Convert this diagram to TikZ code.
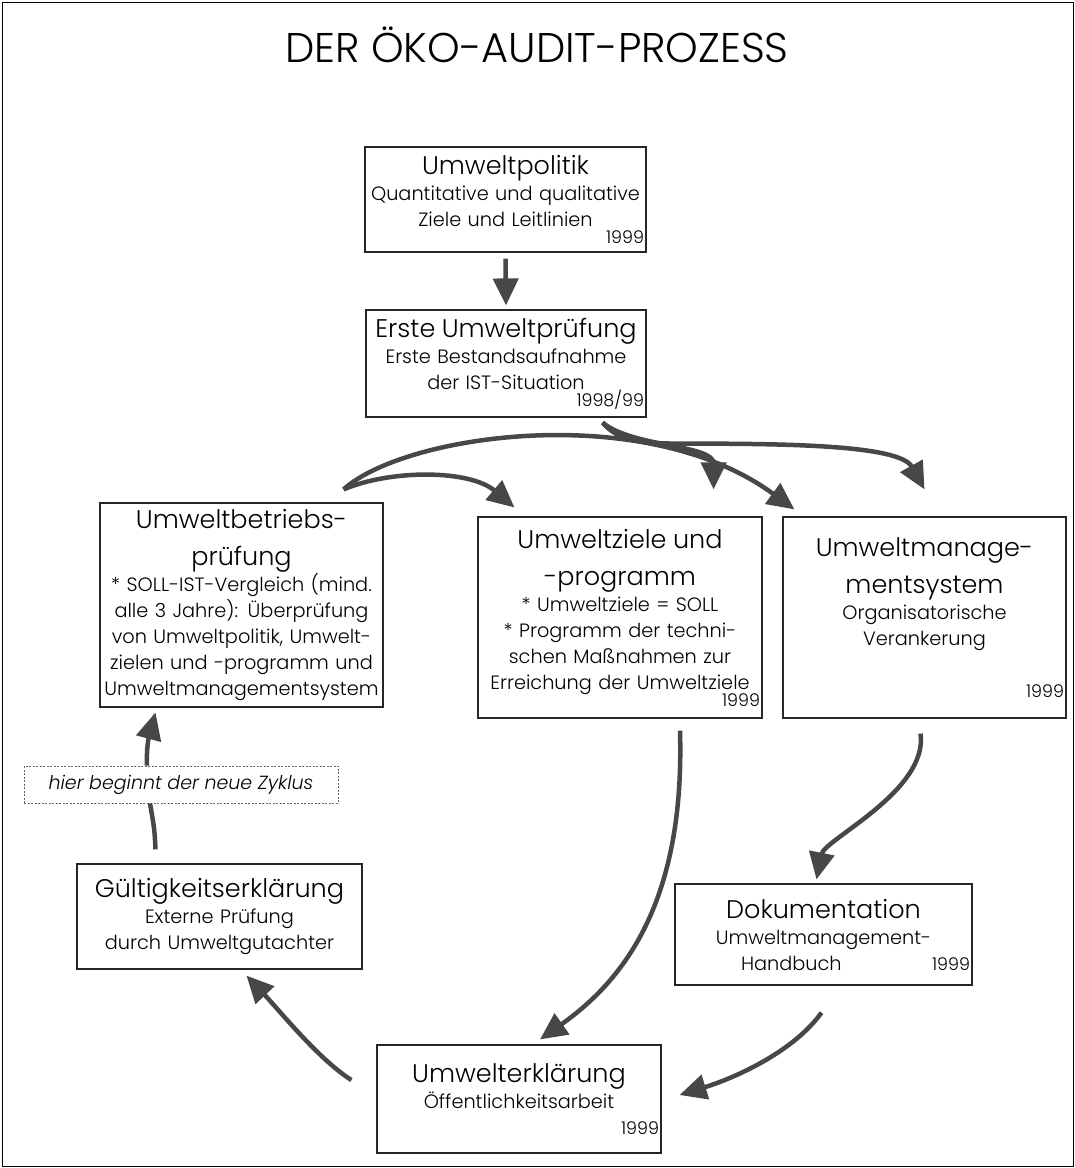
\documentclass[tikz,border=0pt]{standalone}
\usepackage{fontspec}
\setmainfont{Poppins}[UprightFont=* Light, ItalicFont=* Light Italic]
\usetikzlibrary{arrows.meta}

\newcommand{\headfont}{\fontsize{25.5}{37}\selectfont}
\newcommand{\bodyfont}{\fontsize{19.3}{26}\selectfont}
\newcommand{\yearfont}{\fontsize{17.5}{20}\selectfont}

\begin{document}
\begin{tikzpicture}
  [x=1pt, y=-1pt,
   box/.style={draw=black!85, line width=1.2pt, fill=white, align=center, inner sep=2pt, font=\bodyfont},
   zyklusbox/.style={draw=black!60, line width=0.8pt, dash pattern=on 2pt off 1.5pt, fill=white,
     minimum width=314pt, minimum height=37pt, font=\fontsize{19}{22}\selectfont\itshape},
   conn/.style={draw=black!72, line width=4.5pt, -{Triangle[length=27pt,width=25pt]}}]
  \useasboundingbox (0,0) rectangle (1075,1168);
  \draw [line width=1pt] (2,2) rectangle (1073,1166);

  \node (titel) at (537,45) {\fontsize{41.5}{46}\selectfont DER ÖKO-AUDIT-PROZESS};

  \node (pol) [box, minimum width=281pt, minimum height=105pt, text width=277pt] at (505.5,199.5)
    {\headfont Umweltpolitik\\ \bodyfont Quantitative und qualitative\\ Ziele und Leitlinien\\[-3pt]
     \yearfont\hfill 1999\par};
  \node (erste) [box, minimum width=280pt, minimum height=107pt, text width=276pt] at (506,363.5)
    {\headfont Erste Umweltprüfung\\ \bodyfont Erste Bestandsaufnahme\\ der IST-Situation\\[-3pt]
     \yearfont\hfill 1998/99\par};
  \node (betrieb) [box, minimum width=283pt, minimum height=204pt, text width=279pt] at (241.5,605)
    {\headfont Umweltbetriebs-\\ prüfung\\ \bodyfont * SOLL-IST-Vergleich (mind.\\ alle 3 Jahre): Überprüfung\\
     von Umweltpolitik, Umwelt-\\ zielen und -programm und\\ Umweltmanagementsystem\par};
  \node (ziele) [box, minimum width=284pt, minimum height=201pt, text width=280pt] at (620,617.5)
    {\headfont Umweltziele und\\ -programm\\ \bodyfont {*} Umweltziele = SOLL\\ {*} Programm der techni-\\
     schen Maßnahmen zur\\ Erreichung der Umweltziele\\[-3pt] \yearfont\hfill 1999\par};
  \node (ums) [box, minimum width=283pt, minimum height=201pt, text width=279pt] at (924.5,617.5)
    {\headfont Umweltmanage-\\ mentsystem\\ \bodyfont Organisatorische\\ Verankerung\\[32pt]
     \yearfont\hfill 1999\par};
  \node (zyklus) [zyklusbox] at (181,784.5) {hier beginnt der neue Zyklus};
  \node (gueltig) [box, minimum width=285pt, minimum height=105pt, text width=281pt] at (219.5,916.5)
    {\headfont Gültigkeitserklärung\\ \bodyfont Externe Prüfung\\ durch Umweltgutachter\par};
  \node (doku) [box, minimum width=297pt, minimum height=101pt, text width=293pt] at (823.5,934.5)
    {\headfont Dokumentation\\ \bodyfont Umweltmanagement-\\
     \hspace*{64pt}Handbuch\hfill{\yearfont 1999}\par};
  \node (erkl) [box, minimum width=284pt, minimum height=108pt, text width=280pt] at (519,1099)
    {\headfont Umwelterklärung\\ \bodyfont Öffentlichkeitsarbeit\\[6pt] \yearfont\hfill 1999\par};

  \draw [conn] ([yshift=-6pt]pol.south) -- ([yshift=4pt]erste.north);
  \draw [conn] ([xshift=-44pt,yshift=-5pt]erste.south east)
    .. controls +(30,25) and +(0,-45) .. ([xshift=-49pt,yshift=27pt]ziele.north east);
  \draw [conn] ([xshift=-44pt,yshift=-5pt]erste.south east)
    .. controls +(15,18) and +(-40,0) .. ++(78,21)
    .. controls +(100,0) and +(-25,-45) .. ([yshift=27pt]ums.north);
  \draw [conn] ([xshift=-40pt,yshift=13pt]betrieb.north east)
    .. controls +(47,-20) and +(-45,-38) .. ([xshift=37pt,yshift=9pt]ziele.north west);
  \draw [conn] ([xshift=-40pt,yshift=13pt]betrieb.north east)
    .. controls +(60,-55) and +(-150,-110) .. ([xshift=12pt,yshift=7pt]ums.north west);
  \draw [conn] ([xshift=60pt,yshift=-12pt]ziele.south)
    .. controls +(5,170) and +(85,-60) .. ([xshift=21pt,yshift=5pt]erkl.north);
  \draw [conn] ([xshift=-4pt,yshift=-15pt]ums.south)
    .. controls +(8,57) and +(8,-40) .. ([xshift=-7pt,yshift=4pt]doku.north);
  \draw [conn] ([xshift=-2pt,yshift=-27pt]doku.south)
    .. controls +(-27,38) and +(58,-18) .. ([xshift=18pt,yshift=4pt]erkl.east);
  \draw [conn] ([xshift=-25pt,yshift=19pt]erkl.west)
    .. controls +(-32,-20) and +(33,35) .. ([xshift=27pt,yshift=-6pt]gueltig.south);
  \draw [draw=black!72, line width=4.5pt] ([xshift=-64pt,yshift=14pt]gueltig.north)
    .. controls +(-1,-20) .. ([xshift=-31pt]zyklus.south);
  \draw [conn] ([xshift=-34pt]zyklus.north)
    .. controls +(-1,-25) and +(-4,15) .. ([xshift=-86pt,yshift=-5pt]betrieb.south);
\end{tikzpicture}
\end{document}
